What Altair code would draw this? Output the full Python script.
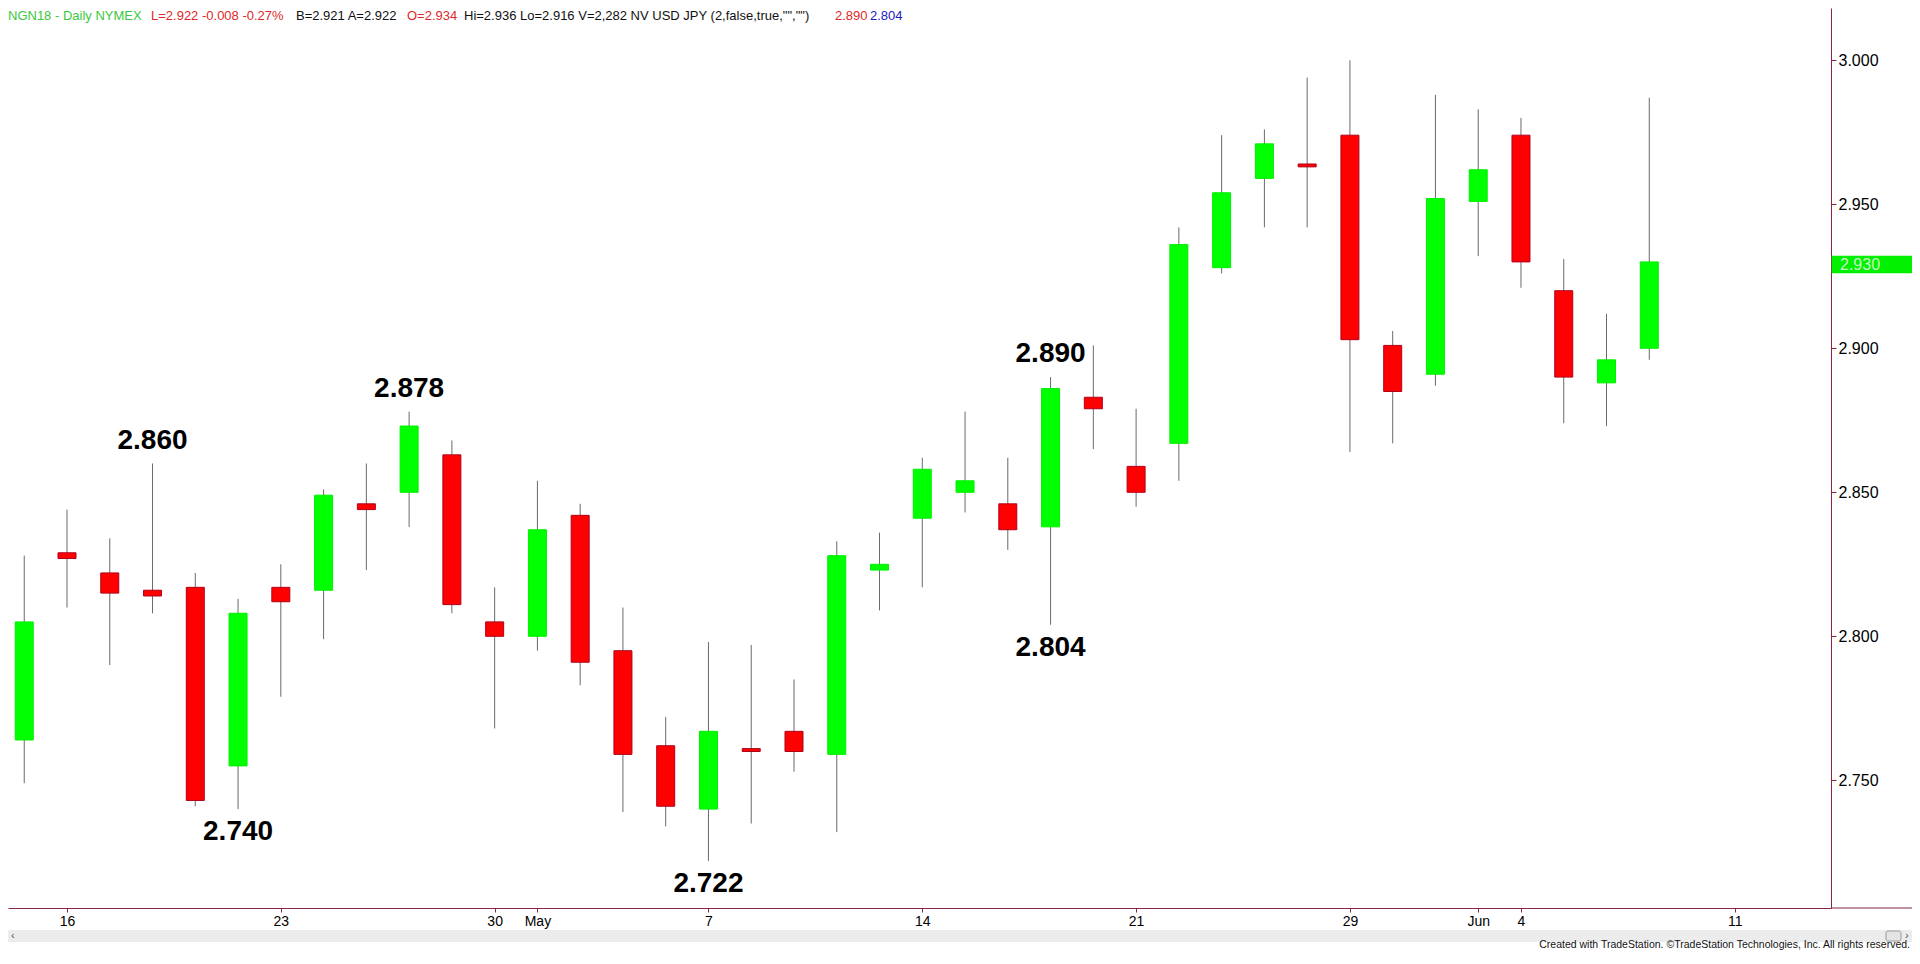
import altair as alt
import pandas as pd

# ---------------- data ----------------
dates = ["Apr 13", "Apr 16", "Apr 17", "Apr 18", "Apr 19", "Apr 20", "Apr 23", "Apr 24",
         "Apr 25", "Apr 26", "Apr 27", "Apr 30", "May 1", "May 2", "May 3", "May 4",
         "May 7", "May 8", "May 9", "May 10", "May 11", "May 14", "May 15", "May 16",
         "May 17", "May 18", "May 21", "May 22", "May 23", "May 24", "May 25", "May 29",
         "May 30", "May 31", "Jun 1", "Jun 4", "Jun 5", "Jun 6", "Jun 7"]
opens = [2.764, 2.829, 2.822, 2.816, 2.817, 2.755, 2.817, 2.816, 2.846, 2.850, 2.863, 2.805,
         2.800, 2.842, 2.795, 2.762, 2.740, 2.761, 2.767, 2.759, 2.823, 2.841, 2.850, 2.846,
         2.838, 2.883, 2.859, 2.867, 2.928, 2.959, 2.964, 2.974, 2.901, 2.891, 2.951, 2.974,
         2.920, 2.888, 2.900]
highs = [2.828, 2.844, 2.834, 2.860, 2.822, 2.813, 2.825, 2.851, 2.860, 2.878, 2.868, 2.817,
         2.854, 2.846, 2.810, 2.772, 2.798, 2.797, 2.785, 2.833, 2.836, 2.862, 2.878, 2.862,
         2.890, 2.901, 2.879, 2.942, 2.974, 2.976, 2.994, 3.000, 2.906, 2.988, 2.983, 2.980,
         2.931, 2.912, 2.987]
lows = [2.749, 2.810, 2.790, 2.808, 2.741, 2.740, 2.779, 2.799, 2.823, 2.838, 2.808, 2.768,
        2.795, 2.783, 2.739, 2.734, 2.722, 2.735, 2.753, 2.732, 2.809, 2.817, 2.843, 2.830,
        2.804, 2.865, 2.845, 2.854, 2.926, 2.942, 2.942, 2.864, 2.867, 2.887, 2.932, 2.921,
        2.874, 2.873, 2.896]
closes = [2.805, 2.827, 2.815, 2.814, 2.743, 2.808, 2.812, 2.849, 2.844, 2.873, 2.811, 2.800,
          2.837, 2.791, 2.759, 2.741, 2.767, 2.760, 2.760, 2.828, 2.825, 2.858, 2.854, 2.837,
          2.886, 2.879, 2.850, 2.936, 2.954, 2.971, 2.963, 2.903, 2.885, 2.952, 2.962, 2.930,
          2.890, 2.896, 2.930]

# x-axis ticks (trading-day index; Jun 8 = 39, Jun 11 = 40) and their labels
tick_idx = [1, 6, 11, 12, 16, 21, 26, 31, 34, 35, 40]
tick_labels = ["16", "23", "30", "May", "7", "14", "21", "29", "Jun", "4", "11"]
y_ticks = [2.750, 2.800, 2.850, 2.900, 2.950, 3.000]

# swing-point annotations
ann_idx = [3, 9, 24, 5, 16, 24]
ann_val = [2.860, 2.878, 2.890, 2.740, 2.722, 2.804]
ann_side = ["above", "above", "above", "below", "below", "below"]

last_price = 2.930

header_texts = ["NGN18 - Daily NYMEX", "L=2.922 -0.008 -0.27%", "B=2.921 A=2.922", "O=2.934",
                'Hi=2.936 Lo=2.916 V=2,282 NV USD JPY (2,false,true,"","")', "2.890", "2.804"]
footer_text = "Created with TradeStation. \u00a9TradeStation Technologies, Inc. All rights reserved."

# ---------------- styles / layout ----------------
W, H = 1823, 900
AX = "#8a2445"
SANS = "Liberation Sans, Arial, sans-serif"
header_colors = ["#3cc83c", "#e02828", "#111111", "#e02828", "#111111", "#e02828", "#2020c0"]
header_x = [0, 143, 288, 399, 456, 827, 862]

df = pd.DataFrame({"idx": list(range(len(dates))), "date": dates, "open": opens,
                   "high": highs, "low": lows, "close": closes})
df["dir"] = ["up" if c > o else "down" for o, c in zip(opens, closes)]

ann = pd.DataFrame({"idx": ann_idx, "val": ann_val, "side": ann_side})
ann["label"] = [f"{v:.3f}" for v in ann_val]

xs = alt.Scale(domain=[-0.2628, 42.1326], nice=False, zero=False)
ys = alt.Scale(domain=[2.70566, 3.01816], nice=False, zero=False)

label_expr = ("[" + ",".join(f"'{t}'" for t in tick_labels) + "][indexof(["
              + ",".join(str(i) for i in tick_idx) + "], datum.value)]")

x_axis = alt.Axis(values=tick_idx, labelExpr=label_expr, title=None, grid=False,
                  orient="bottom", tickSize=4, labelPadding=2, labelFont=SANS,
                  labelFontSize=14, labelColor="#000000", domainColor=AX, tickColor=AX,
                  labelFlush=False, labelOverlap=False)
y_axis = alt.Axis(values=y_ticks, format=".3f", orient="right", title=None, grid=False,
                  tickSize=5, labelPadding=2, labelFont=SANS, labelFontSize=16,
                  labelColor="#000000", domainColor=AX, tickColor=AX)


def X(field):
    return alt.X(field, scale=xs, axis=x_axis)


def Y(field):
    return alt.Y(field, scale=ys, axis=y_axis)


wicks = alt.Chart(df).mark_rule(color="#6a6a6a", strokeWidth=1).encode(
    x=X("idx:Q"), y=Y("low:Q"), y2="high:Q")

bodies = alt.Chart(df).mark_bar(size=18, strokeWidth=1).encode(
    x=X("idx:Q"), y=Y("open:Q"), y2="close:Q",
    color=alt.Color("dir:N", scale=alt.Scale(domain=["up", "down"], range=["#00ff00", "#ff0000"]),
                    legend=None),
    stroke=alt.Stroke("dir:N", scale=alt.Scale(domain=["up", "down"], range=["#00f000", "#b0001a"]),
                      legend=None))

ann_above = alt.Chart(ann).transform_filter(alt.datum.side == "above").mark_text(
    font=SANS, fontSize=28, fontWeight="bold", color="#000000", baseline="alphabetic",
    align="center", dy=-15).encode(x=X("idx:Q"), y=Y("val:Q"), text="label:N")
ann_below = alt.Chart(ann).transform_filter(alt.datum.side == "below").mark_text(
    font=SANS, fontSize=28, fontWeight="bold", color="#000000", baseline="alphabetic",
    align="center", dy=31).encode(x=X("idx:Q"), y=Y("val:Q"), text="label:N")

lp = pd.DataFrame({"price": [last_price], "label": [f"{last_price:.3f}"]})
box_path = "M-1,-0.2047L1,-0.2047L1,0.2047L-1,0.2047Z"
price_box = alt.Chart(lp).mark_point(shape=box_path, size=86 * 86, filled=True, opacity=1,
                                     color="#00f000", strokeWidth=0, yOffset=2.6).encode(
    x=alt.value(1866.7), y=Y("price:Q"))
price_txt = alt.Chart(lp).mark_text(font=SANS, fontSize=16, color="#c4f7c4", align="left",
                                    baseline="middle", yOffset=2.6).encode(
    x=alt.value(1832), y=Y("price:Q"), text="label:N")

one = pd.DataFrame({"k": [0]})
header_layers = []
for t, c, hx in zip(header_texts, header_colors, header_x):
    header_layers.append(
        alt.Chart(pd.DataFrame({"t": [t]})).mark_text(
            font=SANS, fontSize=13, color=c, align="left", baseline="middle").encode(
            x=alt.value(hx), y=alt.value(8), text="t:N"))

axis_ext = alt.Chart(one).mark_rule(color=AX, strokeWidth=1).encode(
    x=alt.value(W), x2=alt.value(W + 90), y=alt.value(H))

scroll = alt.Chart(one).mark_rect(color="#ececec").encode(
    x=alt.value(0), x2=alt.value(1904), y=alt.value(922), y2=alt.value(934))
thumb = alt.Chart(one).mark_rect(color="#e4e4e4", stroke="#9a9a9a", strokeWidth=1,
                                 cornerRadius=2).encode(
    x=alt.value(1878), x2=alt.value(1893), y=alt.value(923), y2=alt.value(933))
arr_l = alt.Chart(pd.DataFrame({"t": ["\u2039"]})).mark_text(
    font=SANS, fontSize=11, color="#555555", align="left", baseline="middle").encode(
    x=alt.value(3), y=alt.value(928), text="t:N")
arr_r = alt.Chart(pd.DataFrame({"t": ["\u203a"]})).mark_text(
    font=SANS, fontSize=11, color="#555555", align="left", baseline="middle").encode(
    x=alt.value(1897), y=alt.value(928), text="t:N")
footer = alt.Chart(pd.DataFrame({"t": [footer_text]})).mark_text(
    font=SANS, fontSize=10.5, color="#111111", align="right", baseline="alphabetic").encode(
    x=alt.value(1902), y=alt.value(940), text="t:N")

chart = alt.layer(
    scroll, thumb, arr_l, arr_r, wicks, bodies, ann_above, ann_below, axis_ext,
    price_box, price_txt, *header_layers, footer
).properties(
    width=W, height=H,
    padding={"left": 0, "top": 0, "right": 81, "bottom": 42},
    autosize=alt.AutoSizeParams(type="none"),
    background="#ffffff",
).configure_view(stroke=None)

chart.save("out.html", embed_options={"renderer": "svg", "actions": False})
